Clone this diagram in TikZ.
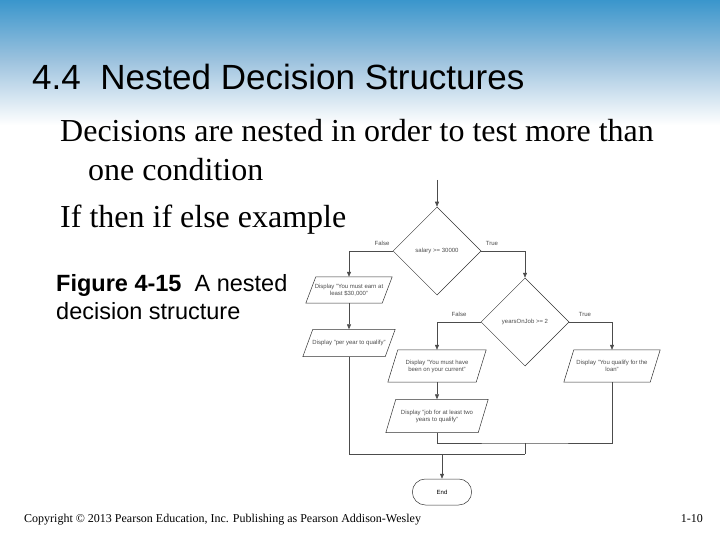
\documentclass[tikz,border=0pt]{standalone}
\usepackage{fontspec}
\setmainfont{Liberation Serif}
\setsansfont{Liberation Sans}
\usetikzlibrary{shapes.geometric,shapes.misc,arrows.meta}
\definecolor{hdr}{HTML}{3A96CC}
\definecolor{hdrmid}{HTML}{9CC2DE}
\tikzset{
  dec/.style={diamond,draw=black!80,line width=0.5pt,minimum width=88pt,minimum height=88pt,inner sep=0pt,font=\sffamily\fontsize{6}{7}\selectfont,text=black!70},
  io/.style={rectangle,inner sep=1pt,align=center,font=\sffamily\fontsize{6}{7}\selectfont,text=black!70},
  iobox/.style={draw=black!80,line width=0.5pt},
  term/.style={rounded rectangle,draw=black!80,line width=0.5pt,minimum width=66pt,minimum height=26pt,font=\sffamily\fontsize{6}{7}\selectfont},
  ln/.style={draw=black!70,line width=0.6pt},
  arr/.style={ln,-{Triangle[length=5pt,width=4pt]}},
  lbl/.style={font=\sffamily\fontsize{6}{7}\selectfont,text=black!70},
}
\newcommand{\paraframe}[1]{\draw[iobox] ([xshift=-5pt]#1.south west) -- ([xshift=-5pt]#1.south east) -- ([xshift=5pt]#1.north east) -- ([xshift=5pt]#1.north west) -- cycle;}
\begin{document}
\begin{tikzpicture}[x=1pt,y=-1pt]
\useasboundingbox (0,0) rectangle (720,540);
\fill[white] (0,0) rectangle (720,540);
\shade[top color=hdr,bottom color=hdrmid] (0,0) rectangle (720,60);
\shade[top color=hdrmid,bottom color=white] (0,60) rectangle (720,125);
\node[anchor=base west,font=\sffamily\fontsize{35}{38}\selectfont,inner sep=0] (title) at (32,90) {4.4\ \ Nested Decision Structures};
\node[anchor=base west,font=\fontsize{32}{34}\selectfont,inner sep=0] (b1) at (60,142) {Decisions are nested in order to test more than};
\node[anchor=base west,font=\fontsize{32}{34}\selectfont,inner sep=0] (b2) at (88,181) {one condition};
\node[anchor=base west,font=\fontsize{32}{34}\selectfont,inner sep=0] (b3) at (60,227) {If then if else example};
\node[anchor=base west,font=\sffamily\fontsize{23.5}{25}\selectfont,inner sep=0] (f1) at (56,291) {\textbf{Figure 4-15}\ \ A nested};
\node[anchor=base west,font=\sffamily\fontsize{23.5}{25}\selectfont,inner sep=0] (f2) at (56,319) {decision structure};
\node[anchor=base west,font=\fontsize{12}{13}\selectfont,inner sep=0] (foot) at (24,522) {Copyright © 2013 Pearson Education, Inc. Publishing as Pearson Addison-Wesley};
\node[anchor=base east,font=\fontsize{12}{13}\selectfont,inner sep=0] (pg) at (703,522) {1-10};

\coordinate (start) at (437,180);
\node[dec] (d1) at (437,251) {salary >= 30000};
\node[dec] (d2) at (525,322) {yearsOnJob >= 2};
\node[io,minimum width=76pt,minimum height=26pt] (p1) at (349,290) {Display "You must earn at\\least \$30,000"};
\node[io,minimum width=82pt,minimum height=27pt] (p2) at (349,343) {Display "per year to qualify"};
\node[io,minimum width=88pt,minimum height=32pt] (p3) at (437,366) {Display "You must have\\been on your current"};
\node[io,minimum width=92pt,minimum height=33pt] (p5) at (437,416) {Display "job for at least two\\years to qualify"};
\node[io,minimum width=86pt,minimum height=32pt] (p4) at (612,366) {Display "You qualify for the\\loan"};
\paraframe{p1}\paraframe{p2}\paraframe{p3}\paraframe{p4}\paraframe{p5}
\node[term] (end) at (442,492) {End};
\coordinate (m1) at (525,443);
\coordinate (m2) at (525,454);

\draw[arr] (start) -- (d1.north);
\draw[arr] (d1.west) -| (p1.north);
\draw[arr] (d1.east) -| (d2.north);
\draw[arr] (p1.south) -- (p2.north);
\draw[arr] (d2.west) -| (p3.north);
\draw[arr] (d2.east) -| (p4.north);
\draw[arr] (p3.south) -- (p5.north);
\draw[ln] (p5.south) |- (m1) -| (p4.south);
\draw[ln] (m1) -- (m2);
\draw[ln] (p2.south) |- (m2);
\draw[arr] (442,454) -- (end.north);
\node[lbl] (l1) at (382,243) {False};
\node[lbl] (l2) at (492,243) {True};
\node[lbl] (l3) at (459,314) {False};
\node[lbl] (l4) at (585,314) {True};
\end{tikzpicture}
\end{document}
